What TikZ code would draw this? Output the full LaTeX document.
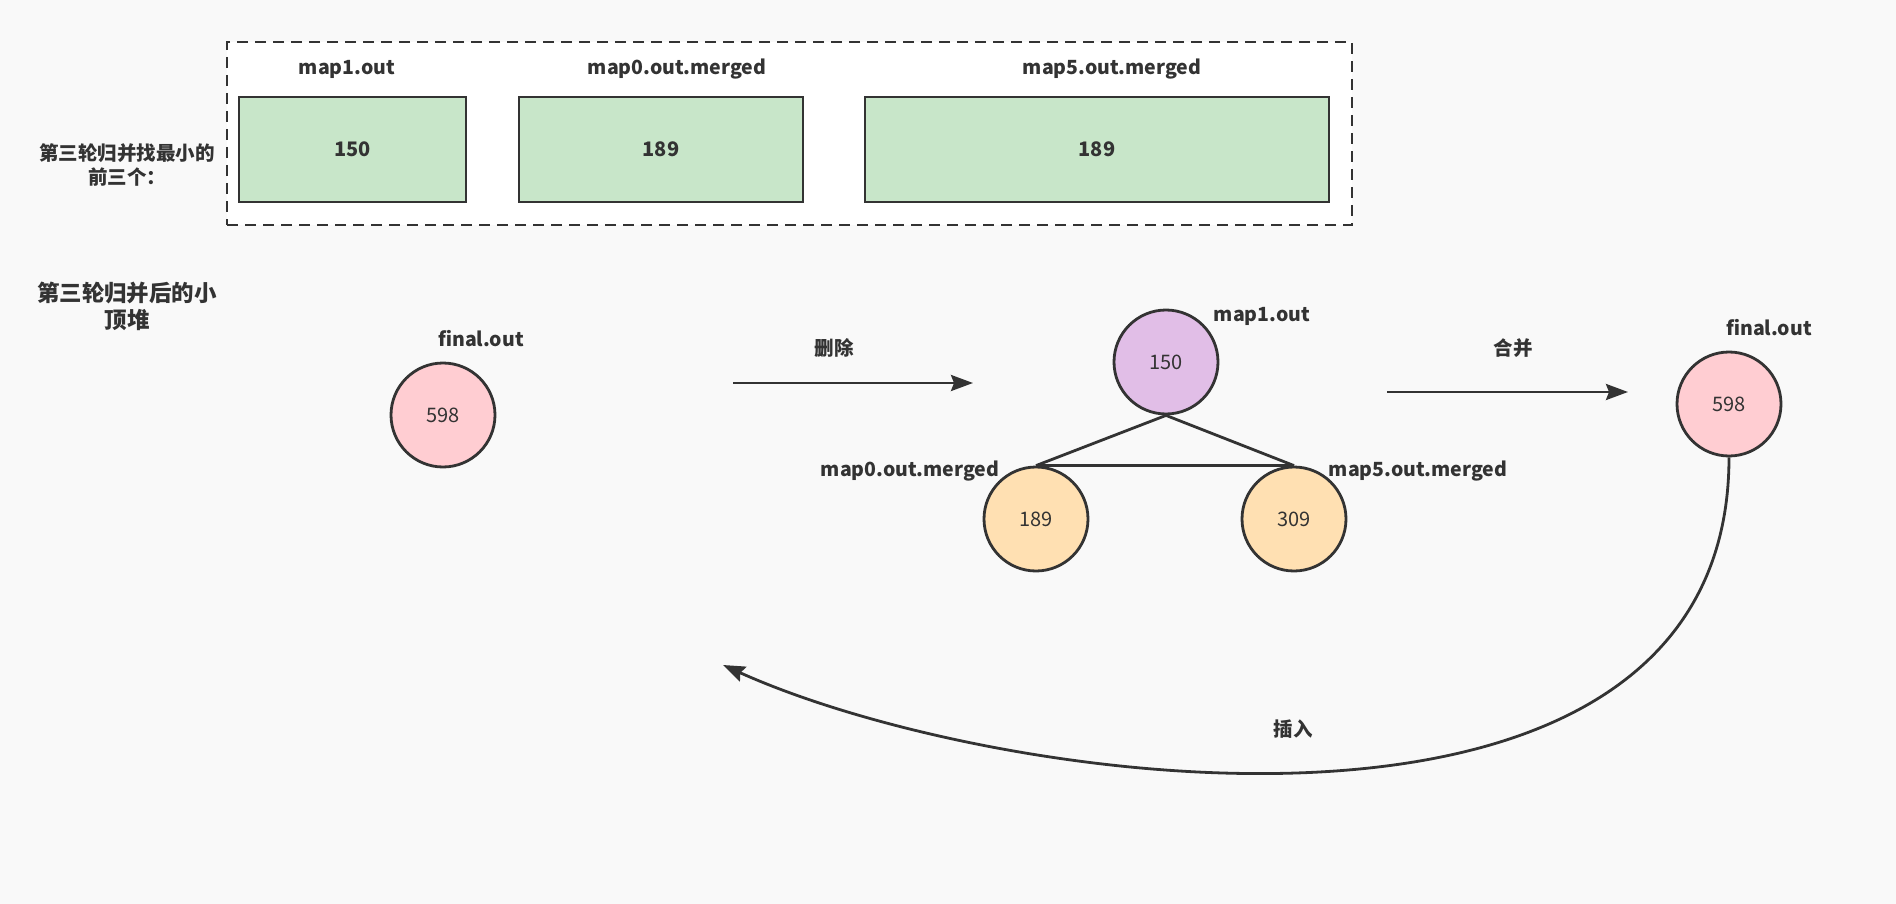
\documentclass[tikz,border=0pt]{standalone}
\usepackage{fontspec}
\setmainfont{Noto Sans CJK SC}
\usetikzlibrary{arrows.meta}
\definecolor{ink}{HTML}{333333}
\definecolor{bg}{HTML}{F9F9F9}
\definecolor{greenfill}{HTML}{C8E6C9}
\definecolor{pinkfill}{HTML}{FFCDD2}
\definecolor{purplefill}{HTML}{E1BEE7}
\definecolor{orangefill}{HTML}{FFE0B2}
\tikzset{
  lbl/.style={text=ink, font=\fontsize{19.5}{24}\selectfont\bfseries, inner sep=0pt},
  cell/.style={draw=ink, fill=greenfill, line width=2.8pt, minimum height=105pt,
    text=ink, font=\fontsize{20}{24}\selectfont\bfseries},
  ball/.style={circle, draw=ink, line width=2.8pt, minimum size=104pt,
    text=ink, font=\fontsize{20}{24}\selectfont},
  arr/.style={draw=ink, line width=2.8pt, -{Stealth[length=22pt,width=16pt,inset=3pt]}},
  edge/.style={draw=ink, line width=2.8pt}
}

\begin{document}
\begin{tikzpicture}[x=1pt,y=-1pt]
    \useasboundingbox[fill=bg] (0,0) rectangle (1896,904);

    % round three: the three smallest
    \node[draw=ink, fill=white, line width=2.8pt, dash pattern=on 11pt off 7pt,
      minimum width=1125pt, minimum height=183pt] (group) at (789.5,133.5) {};
    \node[lbl, align=center] (pick) at (127,165) {第三轮归并找最小的\\前三个：};

    \node[cell, minimum width=227pt] (c1) at (352.5,149.5) {150};
    \node[cell, minimum width=284pt] (c2) at (661,149.5) {189};
    \node[cell, minimum width=464pt] (c3) at (1097,149.5) {189};

    \node[lbl] (t1) at (347,69) {map1.out};
    \node[lbl] (t2) at (677,69) {map0.out.merged};
    \node[lbl] (t3) at (1112,69) {map5.out.merged};

    % heap after round three
    \node[lbl, align=center, font=\fontsize{22.5}{27}\selectfont\bfseries] (heap) at (127,306) {第三轮归并后的小\\顶堆};

    \node[ball, fill=pinkfill] (f1) at (443,415) {598};
    \node[lbl] (n1) at (481,339) {final.out};

    \coordinate (d0) at (733,383);
    \coordinate (d1) at (973,383);
    \draw[arr] (d0) -- (d1);
    \node[lbl] (del) at (834,348) {删除};

    \node[ball, fill=purplefill] (h0) at (1166,362) {150};
    \node[ball, fill=orangefill] (h1) at (1036,519) {189};
    \node[ball, fill=orangefill] (h2) at (1294,519) {309};
    \draw[edge] (h0.south) -- (h1.north);
    \draw[edge] (h0.south) -- (h2.north);
    \draw[edge] (h1.north) -- (h2.north);

    \node[lbl] (n2) at (1262,316) {map1.out};
    \node[lbl] (n3) at (910,471) {map0.out.merged};
    \node[lbl] (n4) at (1418,471) {map5.out.merged};

    \coordinate (m0) at (1387,392);
    \coordinate (m1) at (1628,392);
    \draw[arr] (m0) -- (m1);
    \node[lbl] (merge) at (1513,348) {合并};

    \node[ball, fill=pinkfill] (f2) at (1729,404) {598};
    \node[lbl] (n5) at (1769,328) {final.out};

    \coordinate (ins) at (723,665);
    \draw[arr] (f2.south) .. controls (1729,890) and (1000,790) .. (ins);
    \node[lbl] (insert) at (1293,729) {插入};
\end{tikzpicture}
\end{document}
